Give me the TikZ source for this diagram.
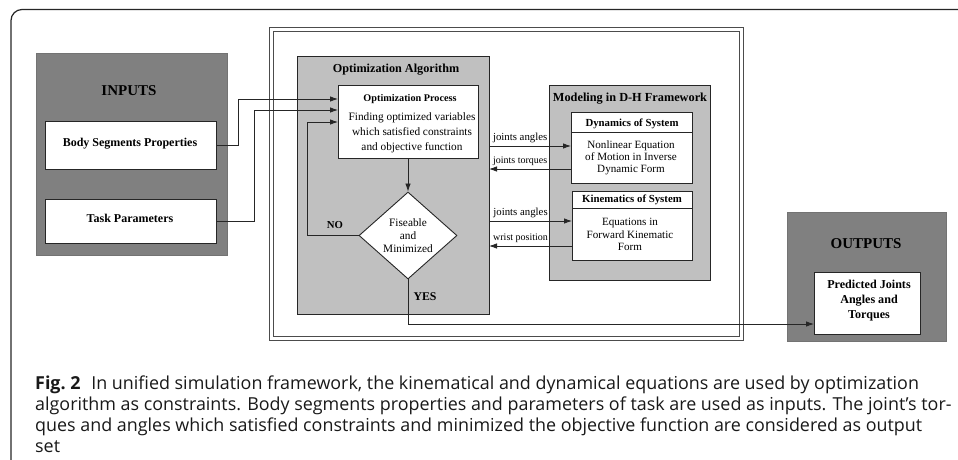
\documentclass[tikz,border=0pt]{standalone}
\usepackage{fontspec}
\setmainfont{Liberation Serif}
\newfontfamily\capfont{Open Sans}
\usetikzlibrary{shapes.geometric,arrows.meta,calc}
\definecolor{dkfill}{HTML}{808080}
\definecolor{ltfill}{HTML}{C0C0C0}
\definecolor{ink}{HTML}{262626}
\newcommand{\fsz}[2]{\fontsize{#1}{#2}\selectfont}
\begin{document}
\begin{tikzpicture}[x=1pt,y=-1pt,
  panel/.style={draw=ink, line width=0.9pt, anchor=north west, inner sep=0pt, outer sep=0pt},
  dk/.style={panel, fill=dkfill, draw=black!55},
  lt/.style={panel, fill=ltfill},
  wbox/.style={panel, fill=white},
  frm/.style={panel, draw=black!70, line width=0.8pt},
  arr/.style={draw=ink, line width=0.8pt, -{Latex[length=8pt,width=5.5pt]}},
  ln/.style={draw=ink, line width=0.8pt},
  txt/.style={inner sep=0pt, align=center, text=black},
  lbl/.style={inner sep=0pt, text=black},
]
\useasboundingbox (0,0) rectangle (958,459);

% caption frame
\draw[line width=1.2pt, draw=black!85, rounded corners=11pt] (11,462) -- (11,9.5) -- (962,9.5);

% INPUTS
\node[dk, minimum width=191pt, minimum height=202pt] (inputs) at (36,53) {};
\node[txt, font=\bfseries\fsz{15}{18}] (inputs-t) at (129,91) {INPUTS};
\node[wbox, minimum width=171pt, minimum height=48pt] (body) at (45,121) {};
\node[txt, font=\bfseries\fsz{12}{14}] (body-t) at (130,144) {Body Segments Properties};
\node[wbox, minimum width=171pt, minimum height=44pt] (task) at (45,199) {};
\node[txt, font=\bfseries\fsz{12}{14}] (task-t) at (130,218) {Task Parameters};

% double frame
\node[frm, minimum width=474pt, minimum height=313pt] (frameo) at (269,27) {};
\node[frm, minimum width=466pt, minimum height=305pt] (framei) at (273,31) {};

% Optimization Algorithm
\node[lt, minimum width=192pt, minimum height=258pt] (optalg) at (297,56) {};
\node[txt, font=\bfseries\fsz{12.2}{14}] (optalg-t) at (396,70) {Optimization Algorithm};
\node[wbox, minimum width=140pt, minimum height=73pt] (optproc) at (338,85) {};
\node[txt, font=\bfseries\fsz{10.2}{12}] (optproc-t) at (410,99) {Optimization Process};
\node[txt, font=\fsz{11.3}{15}] (optproc-b) at (412,133) {Finding optimized variables\\which satisfied constraints\\and objective function};
\node[diamond, draw=ink, fill=white, line width=0.9pt, aspect=1.13, minimum width=98pt, minimum height=87pt, inner sep=0pt, align=center, font=\fsz{11.3}{13}] (dec) at (408,235.5) {Fiseable\\and\\Minimized};
\node[txt, font=\bfseries\fsz{10.7}{12}] (no) at (335,225) {NO};
\node[txt, font=\bfseries\fsz{11.8}{14}] (yes) at (425,297) {YES};

% Modeling
\node[lt, minimum width=161pt, minimum height=195pt] (model) at (549,85) {};
\node[txt, font=\bfseries\fsz{12.3}{14}] (model-t) at (630,99) {Modeling in D-H Framework};
\node[wbox, minimum width=121pt, minimum height=71pt] (dyn) at (571,112) {};
\draw[ln] (dyn.west |- 0,132) -- (dyn.east |- 0,132);
\node[txt, font=\bfseries\fsz{10.8}{12}] (dyn-t) at (632,124) {Dynamics of System};
\node[txt, font=\fsz{11.1}{12.2}] (dyn-b) at (631,158) {Nonlinear Equation\\of Motion in Inverse\\Dynamic Form};
\node[wbox, minimum width=120pt, minimum height=69pt] (kin) at (572,191) {};
\draw[ln] (kin.west |- 0,208) -- (kin.east |- 0,208);
\node[txt, font=\bfseries\fsz{10.8}{12}] (kin-t) at (632,200) {Kinematics of System};
\node[txt, font=\fsz{11.1}{12.5}] (kin-b) at (630,234.5) {Equations in\\Forward Kinematic\\Form};

% OUTPUTS
\node[dk, minimum width=159pt, minimum height=129pt] (outputs) at (787,212) {};
\node[txt, font=\bfseries\fsz{15}{18}] (outputs-t) at (866,244) {OUTPUTS};
\node[wbox, minimum width=106pt, minimum height=62pt] (pred) at (814,272) {};
\node[txt, font=\bfseries\fsz{12.1}{15}] (pred-t) at (869,301) {Predicted Joints\\Angles and\\Torques};

% connectors
\draw[arr] (body.east) -| (238,99) -- (optproc.west |- 238,99);
\draw[arr] (task.east) -| (254,110) -- (optproc.west |- 254,110);
\draw[arr] (optproc.south) -- (dec.north);
\draw[arr] (dec.west) -| (307,122) -- (optproc.west |- 307,122);
\draw[arr] (dec.south) |- (pred.west |- 0,324);

\draw[arr] (optalg.east |- 0,146) -- node[lbl, pos=0.38, above=2.5pt, font=\fsz{10.8}{12}] (ja1) {joints angles} (dyn.west |- 0,146);
\draw[arr] (dyn.west |- 0,169) -- node[lbl, pos=0.62, above=2.5pt, font=\fsz{10}{12}] (jt) {joints torques} (optalg.east |- 0,169);
\draw[arr] (optalg.east |- 0,221) -- node[lbl, pos=0.38, above=2.5pt, font=\fsz{10.8}{12}] (ja2) {joints angles} (kin.west |- 0,221);
\draw[arr] (kin.west |- 0,246) -- node[lbl, pos=0.62, above=2.5pt, font=\fsz{10}{12}] (wp) {wrist position} (optalg.east |- 0,246);

% caption
\node[anchor=west, inner sep=0pt, align=left, text=black!90, font=\capfont\fsz{17.9}{21}] (caption) at (35,414.5) {{\bfseries Fig.~2}\hspace{0.6em}In unified simulation framework, the kinematical and dynamical equations are used by optimization\\algorithm as constraints. Body segments properties and parameters of task are used as inputs. The joint’s tor-\\ques and angles which satisfied constraints and minimized the objective function are considered as output\\set};
\end{tikzpicture}
\end{document}
